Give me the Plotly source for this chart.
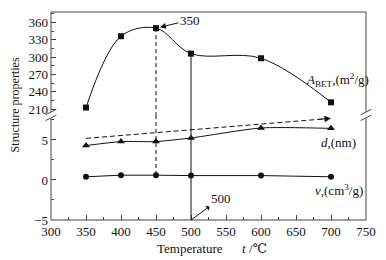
import plotly.graph_objects as go

temps = [350, 400, 450, 500, 600, 700]
a_bet = [213, 336, 350, 306, 298, 222]
d_nm = [4.3, 4.8, 4.8, 5.25, 6.5, 6.45]
v_cm3 = [0.4, 0.6, 0.6, 0.55, 0.55, 0.4]
trend_x = [350, 700]
trend_y = [5.2, 7.7]

upper_ticks = [210, 240, 270, 300, 330, 360]
lower_ticks = [-5, 0, 5]
x_ticks = [300, 350, 400, 450, 500, 550, 600, 650, 700, 750]

upper_range = [200.2, 377.8]
lower_range = [-5, 8.125]
split = 0.505

FONT = "Liberation Serif, Times New Roman, DejaVu Serif, serif"
INK = "#111111"

fig = go.Figure()

fig.add_trace(go.Scatter(x=temps, y=a_bet, xaxis="x", yaxis="y2", mode="lines+markers",
                         line=dict(color=INK, width=1, shape="spline", smoothing=1.0),
                         marker=dict(symbol="square", size=6, color=INK)))
fig.add_trace(go.Scatter(x=temps, y=d_nm, xaxis="x", yaxis="y", mode="lines+markers",
                         line=dict(color=INK, width=1, shape="spline", smoothing=0.6),
                         marker=dict(symbol="triangle-up", size=7, color=INK)))
fig.add_trace(go.Scatter(x=temps, y=v_cm3, xaxis="x", yaxis="y", mode="lines+markers",
                         line=dict(color=INK, width=1),
                         marker=dict(symbol="circle", size=6, color=INK)))
fig.add_trace(go.Scatter(x=trend_x, y=trend_y, xaxis="x", yaxis="y", mode="lines",
                         line=dict(color=INK, width=1, dash="5px,3px")))

fig.add_annotation(x=trend_x[1], y=trend_y[1], xref="x", yref="y",
                   ax=trend_x[1] - 20, ay=trend_y[1] - (trend_y[1] - trend_y[0]) * 20 / (trend_x[1] - trend_x[0]),
                   axref="x", ayref="y", showarrow=True, arrowhead=2, arrowsize=1.3,
                   arrowwidth=1, arrowcolor=INK, text="")

i450 = temps.index(450)
i500 = temps.index(500)
shapes = [
    dict(type="line", xref="x", yref="y2", x0=450, x1=450, y0=a_bet[i450], y1=upper_range[0],
         line=dict(color=INK, width=1, dash="4px,3px")),
    dict(type="line", xref="x", yref="y", x0=450, x1=450, y0=lower_range[1], y1=v_cm3[i450],
         line=dict(color=INK, width=1, dash="4px,3px")),
    dict(type="line", xref="x", yref="y2", x0=500, x1=500, y0=a_bet[i500], y1=upper_range[0],
         line=dict(color=INK, width=1)),
    dict(type="line", xref="x", yref="y", x0=500, x1=500, y0=lower_range[1], y1=lower_range[0],
         line=dict(color=INK, width=1)),
    dict(type="rect", xref="paper", yref="paper", x0=0, x1=1, y0=0, y1=1,
         line=dict(color="#444444", width=1)),
]
for xp in (0, 1):
    shapes.append(dict(type="line", xref="paper", yref="paper", x0=xp - 0.006, x1=xp + 0.006,
                       y0=split - 0.012, y1=split + 0.012, line=dict(color="white", width=5)))
    for dy in (-0.014, 0.014):
        shapes.append(dict(type="line", xref="paper", yref="paper",
                           x0=xp - 0.017, x1=xp + 0.017, y0=split + dy - 0.013, y1=split + dy + 0.013,
                           line=dict(color="#444444", width=1)))
fig.update_layout(shapes=shapes)

fig.add_annotation(x=450, y=a_bet[i450], xref="x", yref="y2", ax=34, ay=-8,
                   text="350", showarrow=True, arrowhead=2, arrowsize=1.2, arrowwidth=1,
                   arrowcolor=INK, standoff=4, font=dict(family=FONT, size=13, color=INK))
fig.add_annotation(x=500, y=lower_range[0], xref="x", yref="y", ax=30, ay=-22,
                   text="500", showarrow=True, arrowhead=2, arrowsize=1.2, arrowwidth=1,
                   arrowside="start", arrowcolor=INK, font=dict(family=FONT, size=13, color=INK))

fig.add_annotation(x=662, y=261, xref="x", yref="y2", xanchor="left", yanchor="middle",
                   text="<i>A</i><sub>BET</sub>,(m<sup>2</sup>/g)", showarrow=False,
                   font=dict(family=FONT, size=13, color=INK))
fig.add_annotation(x=683, y=4.7, xref="x", yref="y", xanchor="left", yanchor="middle",
                   text="<i>d</i>,(nm)", showarrow=False, font=dict(family=FONT, size=13, color=INK))
fig.add_annotation(x=674, y=-1.25, xref="x", yref="y", xanchor="left", yanchor="middle",
                   text="<i>v</i>,(cm<sup>3</sup>/g)", showarrow=False, font=dict(family=FONT, size=13, color=INK))

fig.add_annotation(x=0.51, y=-0.135, xref="paper", yref="paper", yanchor="middle", xanchor="center",
                   text="Temperature      <i>t</i> /℃", showarrow=False,
                   font=dict(family=FONT, size=13, color=INK))
fig.add_annotation(x=-0.113, y=0.553, xref="paper", yref="paper", xanchor="center", yanchor="middle",
                   textangle=-90, text="Structure properties", showarrow=False,
                   font=dict(family=FONT, size=12, color=INK))

axis_common = dict(showgrid=False, zeroline=False, showline=False, ticks="inside", ticklen=5,
                   tickcolor="#444444", tickfont=dict(family=FONT, size=13, color=INK))

fig.update_layout(
    width=378, height=252,
    margin=dict(l=43, r=20, t=4, b=40),
    paper_bgcolor="white", plot_bgcolor="white",
    showlegend=False,
    font=dict(family=FONT, size=13, color=INK),
    xaxis=dict(range=[300, 750], tickvals=x_ticks, anchor="y", ticklabelstandoff=2,
               minor=dict(dtick=25, tick0=300, ticks="inside", ticklen=3, tickcolor="#444444"),
               **axis_common),
    yaxis=dict(domain=[0, split], range=lower_range, tickvals=lower_ticks, anchor="x",
               ticktext=["−5", "0", "5"], ticklabelstandoff=2,
               minor=dict(dtick=2.5, tick0=-5, ticks="inside", ticklen=3, tickcolor="#444444"),
               **axis_common),
    yaxis2=dict(domain=[split, 1], range=upper_range, tickvals=upper_ticks, anchor="x",
                ticklabelstandoff=2,
                minor=dict(dtick=15, tick0=210, ticks="inside", ticklen=3, tickcolor="#444444"),
                **axis_common),
)

fig.write_html("out.html")
